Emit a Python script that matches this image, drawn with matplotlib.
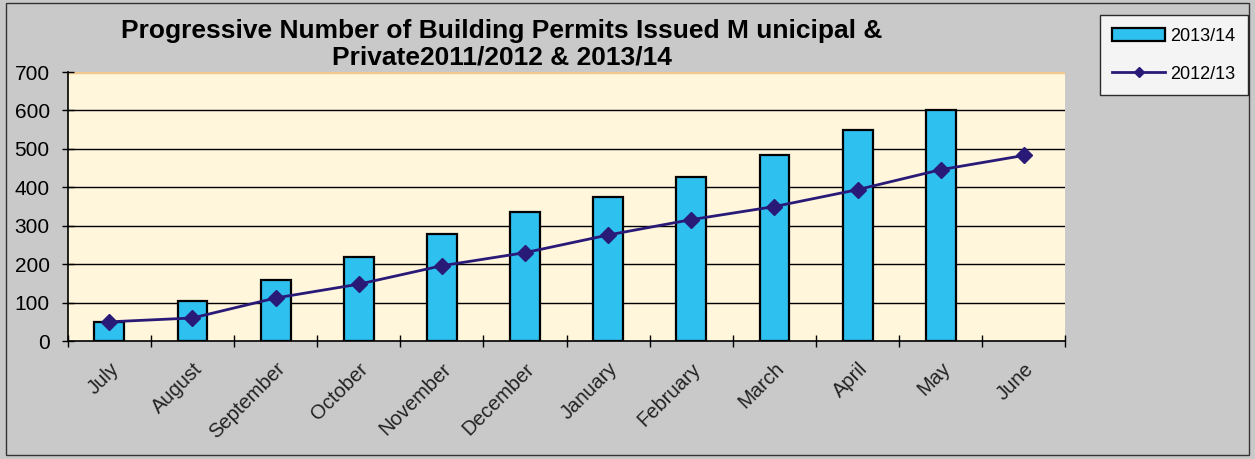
import numpy as np
import matplotlib.pyplot as plt
from matplotlib.patches import Rectangle

plt.rcParams['font.family'] = ['Liberation Sans', 'DejaVu Sans']

months = ['July', 'August', 'September', 'October', 'November', 'December',
          'January', 'February', 'March', 'April', 'May', 'June']
permits_1314 = [50, 105, 158, 220, 278, 335, 375, 428, 485, 549, 602]   # no June yet
permits_1213 = [50, 60, 112, 148, 196, 230, 276, 316, 350, 394, 446, 483]

fig = plt.figure(figsize=(12.55, 4.59), dpi=100)
fig.patch.set_facecolor('#c9c9c9')
# thin outer frame
fig.add_artist(Rectangle((0.005, 0.008), 0.99, 0.985, transform=fig.transFigure,
                         fill=False, edgecolor='#333333', lw=1.0))

ax = fig.add_axes([0.054, 0.257, 0.795, 0.586])
ax.set_facecolor('#fff6dc')

x = np.arange(len(months))
bars = ax.bar(x[:len(permits_1314)], permits_1314, width=0.36, color='#2ec0ee',
              edgecolor='black', linewidth=1.6, label='2013/14', zorder=3)
line, = ax.plot(x, permits_1213, color='#2a1a78', lw=2, marker='D', markersize=8,
                label='2012/13', zorder=4)

ax.set_ylim(0, 700)
ax.set_xlim(-0.5, len(months) - 0.5)
ax.set_yticks(range(0, 701, 100))
ax.tick_params(axis='y', labelsize=15, direction='inout', length=8, width=1, pad=9)
for yv in range(100, 601, 100):
    ax.axhline(yv, color='black', lw=1, zorder=1)
ax.axhline(700, color='#f2c98e', lw=2.5, zorder=1)

# ticks on the category boundaries, labels at the centres
ax.set_xticks(np.arange(-0.5, len(months), 1))
ax.set_xticklabels([])
ax.set_xticks(x, minor=True)
ax.set_xticklabels(months, minor=True, rotation=45, ha='right', va='top',
                   rotation_mode='anchor', fontsize=14.5, color='#222222')
ax.tick_params(axis='x', which='major', direction='inout', length=9, width=1)
ax.tick_params(axis='x', which='minor', length=0, pad=13)

for s in ['top', 'right']:
    ax.spines[s].set_visible(False)
ax.spines['left'].set_linewidth(1.2)
ax.spines['bottom'].set_linewidth(1.2)

fig.text(0.40, 0.958, 'Progressive Number of Building Permits Issued M unicipal &\n'
         'Private2011/2012 & 2013/14', ha='center', va='top', fontsize=19,
         fontweight='bold', linespacing=1.1)

leg = fig.legend([bars, line], ['2013/14', '2012/13'], loc='upper right',
                 bbox_to_anchor=(0.9944, 0.967), borderaxespad=0, fontsize=13,
                 frameon=True, fancybox=False, edgecolor='black', facecolor='white',
                 handlelength=2.9, handleheight=0.67, labelspacing=1.15,
                 borderpad=0.7, handletextpad=0.3, markerscale=0.6)
leg.get_frame().set_linewidth(1.0)

fig.savefig('out.png', dpi=100, facecolor=fig.get_facecolor())
